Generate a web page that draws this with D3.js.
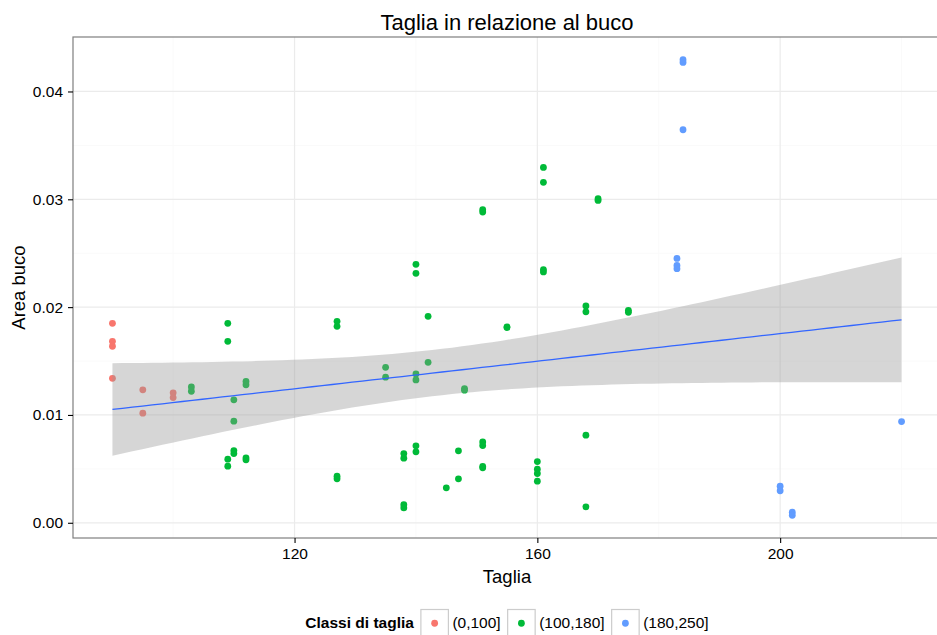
<!DOCTYPE html>
<html>
<head>
<meta charset="utf-8">
<script src="https://cdn.jsdelivr.net/npm/d3@7"></script>
<style>
  body { margin: 0; background: #fff; }
  text { font-family: "Liberation Sans", Arial, Helvetica, sans-serif; fill: #000; }
</style>
</head>
<body>
<div id="chart"></div>
<script>
// Taglia (x), area buco (y) and class
const taglia = [
  90, 90, 90, 90, 95, 95, 100, 100,
  103, 103, 109, 109, 109, 109, 110, 110, 110, 110, 112, 112, 112, 112,
  127, 127, 127, 127, 135, 135, 138, 138, 138, 138,
  140, 140, 140, 140, 140, 140, 142, 142, 145, 147, 147, 148, 148,
  151, 151, 151, 151, 151, 151, 155, 155, 160, 160, 160, 160,
  161, 161, 161, 161, 168, 168, 168, 168, 170, 170, 175, 175,
  183, 183, 183, 184, 184, 184, 200, 200, 202, 202, 220
];
const areaBuco = [
  0.0185, 0.01683, 0.01637, 0.0134, 0.01233, 0.01016, 0.01205, 0.01161,
  0.0126, 0.0122, 0.0185, 0.01683, 0.0059, 0.00525, 0.0114, 0.00942, 0.0067, 0.00642, 0.0131, 0.0128, 0.00602, 0.00584,
  0.01868, 0.01822, 0.00432, 0.00408, 0.01442, 0.0135, 0.00642, 0.00599, 0.00167, 0.00139,
  0.02397, 0.02313, 0.0138, 0.01325, 0.00714, 0.00658, 0.01915, 0.01488, 0.00324, 0.00667, 0.00408, 0.01245, 0.0123,
  0.02904, 0.02882, 0.0075, 0.00716, 0.00522, 0.0051, 0.01817, 0.0181, 0.00568, 0.00497, 0.00457, 0.00386,
  0.03296, 0.03157, 0.02348, 0.02326, 0.02011, 0.01956, 0.00812, 0.00148, 0.03006, 0.0299, 0.0197, 0.01952,
  0.02452, 0.02387, 0.02357, 0.04294, 0.04269, 0.03645, 0.00339, 0.00297, 0.00098, 0.0007, 0.00939
];
const classi = ["(0,100]", "(100,180]", "(180,250]"];
const classColors = ["#F8766D", "#00BA38", "#619CFF"];
const xTicks = [120, 160, 200];
const yTicks = [0, 0.01, 0.02, 0.03, 0.04];

const W = 937, H = 635;
const margin = {top: 37, left: 73, right: -4, bottom: 97};
const pw = W - margin.left - margin.right, ph = H - margin.top - margin.bottom;

const data = taglia.map((t, i) => ({
  x: t, y: areaBuco[i],
  c: t <= 100 ? 0 : (t <= 180 ? 1 : 2)
}));

const svg = d3.select("#chart").append("svg")
  .attr("width", W).attr("height", H);

// expanded scales like ggplot (5% each side)
const xe = d3.extent(data, d => d.x), ye = d3.extent(data, d => d.y);
const xpad = (xe[1] - xe[0]) * 0.05, ypad = (ye[1] - ye[0]) * 0.05;
const x = d3.scaleLinear().domain([xe[0] - xpad, xe[1] + xpad]).range([0, pw]);
const y = d3.scaleLinear().domain([ye[0] - ypad, ye[1] + ypad]).range([ph, 0]);

const g = svg.append("g").attr("transform", `translate(${margin.left},${margin.top})`);

// grid
const xMinor = [100, 140, 180, 220], yMinor = [0.005, 0.015, 0.025, 0.035];
g.append("g").selectAll("line").data(xMinor).enter().append("line")
  .attr("x1", d => x(d)).attr("x2", d => x(d)).attr("y1", 0).attr("y2", ph)
  .style("stroke", "#fafafa").style("stroke-width", 1);
g.append("g").selectAll("line").data(yMinor).enter().append("line")
  .attr("x1", 0).attr("x2", pw).attr("y1", d => y(d)).attr("y2", d => y(d))
  .style("stroke", "#fafafa").style("stroke-width", 1);
g.append("g").selectAll("line").data(xTicks).enter().append("line")
  .attr("x1", d => x(d)).attr("x2", d => x(d)).attr("y1", 0).attr("y2", ph)
  .style("stroke", "#ebebeb").style("stroke-width", 1.2);
g.append("g").selectAll("line").data(yTicks).enter().append("line")
  .attr("x1", 0).attr("x2", pw).attr("y1", d => y(d)).attr("y2", d => y(d))
  .style("stroke", "#ebebeb").style("stroke-width", 1.2);

// points
g.append("g").selectAll("circle").data(data).enter().append("circle")
  .attr("cx", d => x(d.x)).attr("cy", d => y(d.y)).attr("r", 3.4)
  .style("fill", d => classColors[d.c]);

// linear smooth with 95% band
const n = data.length;
const mx = d3.mean(data, d => d.x), my = d3.mean(data, d => d.y);
const sxx = d3.sum(data, d => (d.x - mx) ** 2);
const sxy = d3.sum(data, d => (d.x - mx) * (d.y - my));
const b1 = sxy / sxx, b0 = my - b1 * mx;
const s = Math.sqrt(d3.sum(data, d => (d.y - b0 - b1 * d.x) ** 2) / (n - 2));
const tCrit = 1.989;
const fit = d3.range(80).map(i => {
  const xv = xe[0] + (xe[1] - xe[0]) * i / 79;
  const se = s * Math.sqrt(1 / n + (xv - mx) ** 2 / sxx);
  const f = b0 + b1 * xv;
  return {x: xv, f: f, lo: f - tCrit * se, hi: f + tCrit * se};
});
g.append("path").datum(fit)
  .attr("d", d3.area().x(d => x(d.x)).y0(d => y(d.lo)).y1(d => y(d.hi)))
  .style("fill", "#999999").style("opacity", 0.4);
g.append("path").datum(fit)
  .attr("d", d3.line().x(d => x(d.x)).y(d => y(d.f)))
  .style("fill", "none").style("stroke", "#3366FF").style("stroke-width", 1.3);

// panel border
g.append("rect").attr("x", 0).attr("y", 0).attr("width", pw).attr("height", ph)
  .style("fill", "none").style("stroke", "#7f7f7f").style("stroke-width", 1.2);

// axes
const xAxis = g.append("g").attr("transform", `translate(0,${ph})`)
  .call(d3.axisBottom(x).tickValues(xTicks).tickSize(5).tickPadding(5).tickFormat(d3.format("d")));
const yAxis = g.append("g")
  .call(d3.axisLeft(y).tickValues(yTicks).tickSize(5).tickPadding(5).tickFormat(d3.format(".2f")));
[xAxis, yAxis].forEach(a => {
  a.select(".domain").remove();
  a.selectAll(".tick line").style("stroke", "#000").style("stroke-width", 1.1);
  a.selectAll(".tick text").style("font-size", "15.5px").style("fill", "#000")
    .style("font-family", "'Liberation Sans', Arial, sans-serif");
});

// titles
svg.append("text").attr("x", margin.left + pw / 2).attr("y", 30)
  .attr("text-anchor", "middle").style("font-size", "22px")
  .text("Taglia in relazione al buco");
svg.append("text").attr("x", margin.left + pw / 2).attr("y", 583)
  .attr("text-anchor", "middle").style("font-size", "18.5px").text("Taglia");
svg.append("text")
  .attr("transform", `translate(25,${margin.top + ph / 2}) rotate(-90)`)
  .attr("text-anchor", "middle").style("font-size", "18.5px").text("Area buco");

// legend
const lg = svg.append("g");
const ltitle = lg.append("text").attr("x", 0).attr("y", 628)
  .style("font-size", "15.5px").style("font-weight", "bold").text("Classi di taglia");
let cx = ltitle.node().getComputedTextLength() + 7;
classi.forEach((c, i) => {
  lg.append("rect").attr("x", cx).attr("y", 609.5).attr("width", 27.5).attr("height", 27.5)
    .style("fill", "#fff").style("stroke", "#cccccc").style("stroke-width", 1.2);
  lg.append("circle").attr("cx", cx + 13.75).attr("cy", 623.25).attr("r", 3.4)
    .style("fill", classColors[i]);
  const t = lg.append("text").attr("x", cx + 31.5).attr("y", 628)
    .style("font-size", "15.5px").text(c);
  cx += 31.5 + t.node().getComputedTextLength() + 7;
});
const lw = cx - 7;
lg.attr("transform", `translate(${margin.left + pw / 2 - lw / 2},0)`);
</script>
</body>
</html>
